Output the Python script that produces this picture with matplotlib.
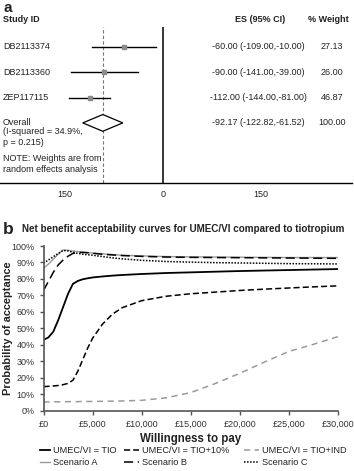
import numpy as np
import matplotlib
matplotlib.use("Agg")
import matplotlib.pyplot as plt
from matplotlib.patches import Polygon
import matplotlib.transforms as mtransforms

plt.rcParams['font.family'] = ['Liberation Sans', 'DejaVu Sans']

# ---- panel a: forest plot data ----
studies = ["DB2113374", "DB2113360", "ZEP117115"]
es = [-60.00, -90.00, -112.00]
ci_lo = [-109.00, -141.00, -144.00]
ci_hi = [-10.00, -39.00, -81.00]
weights = [27.13, 26.00, 46.87]
overall_es = -92.17
overall_lo = -122.82
overall_hi = -61.52
overall_weight = 100.00
forest_ticks = [-150, 0, 150]
forest_ticklabels = ["150", "0", "150"]

# ---- panel b: acceptability curves ----
wtp = [0, 500, 1000, 1500, 2000, 2500, 3000, 3500, 4000, 4500, 5000, 6000,
       7000, 8000, 10000, 12500, 15000, 17500, 20000, 22500, 25000, 27500, 30000]
tio = [43, 44.5, 48, 55, 63, 71, 77, 78.8, 79.8, 80.4, 80.9, 81.5,
       82, 82.4, 83, 83.6, 84, 84.4, 84.8, 85.1, 85.4, 85.7, 86]
tio_10 = [14.6, 14.8, 15, 15.3, 15.8, 16.6, 18.5, 24, 31, 38, 44, 52.5,
          58.5, 62.5, 66.8, 69.5, 71, 72, 73, 73.8, 74.5, 75.2, 75.8]
tio_ind = [5.3, 5.3, 5.4, 5.4, 5.4, 5.5, 5.5, 5.5, 5.6, 5.6, 5.6, 5.7,
           5.8, 5.9, 6.3, 7.8, 11, 16.5, 22.7, 29.5, 36, 40.3, 45]
scen_a = [86.5, 89, 92, 95, 97.6, 97.4, 97, 96.6, 96.3, 96, 95.7, 95.2,
          94.8, 94.4, 94, 93.6, 93.4, 93.3, 93.2, 93.1, 93, 93, 93]
scen_b = [73, 78.5, 84, 88.5, 91.5, 93.8, 95.5, 96, 96.1, 95.9, 95.6, 95,
          94.6, 94.2, 93.7, 93.3, 93.1, 93, 92.9, 92.8, 92.7, 92.6, 92.5]
scen_c = [89.5, 91.5, 93.5, 95.5, 97.3, 97, 96.2, 95.5, 95, 94.7, 94.4, 93.6,
          92.8, 92.2, 91.3, 90.6, 90.2, 89.9, 89.7, 89.5, 89.3, 89.2, 89.1]
x_ticks = [0, 5000, 10000, 15000, 20000, 25000, 30000]
x_ticklabels = ["£0", "£5,000", "£10,000", "£15,000", "£20,000", "£25,000", "£30,000"]
y_ticks = [0, 10, 20, 30, 40, 50, 60, 70, 80, 90, 100]
y_ticklabels = ["0%", "10%", "20%", "30%", "40%", "50%", "60%", "70%", "80%", "90%", "100%"]

W, H = 354, 471
fig = plt.figure(figsize=(W / 100, H / 100), dpi=100)
txt = "#222222"


def fx(px):
    return px / W


def fy(py):
    return 1 - py / H


# ================= panel a =================
ax_a = fig.add_axes([0, fy(183), fx(352), (183 - 27) / H])
x0_px = 163
scale = 98 / 150
ax_a.set_xlim(-x0_px / scale, (352 - x0_px) / scale)
ax_a.set_ylim(5.375, -0.79)
for s in ["top", "right", "left"]:
    ax_a.spines[s].set_visible(False)
ax_a.spines["bottom"].set_linewidth(1.0)
ax_a.set_yticks([])
ax_a.set_xticks(forest_ticks)
ax_a.set_xticklabels(forest_ticklabels, fontsize=6.5, color=txt)
ax_a.tick_params(axis="x", length=0, pad=5)

ax_a.axvline(0, color="black", lw=1.1)
ax_a.axvline(overall_es, color="#777777", lw=0.8, ls=(0, (3, 2)))

rows = np.arange(len(studies))
for r, e, lo, hi in zip(rows, es, ci_lo, ci_hi):
    ax_a.plot([lo, hi], [r, r], color="black", lw=1.0)
    ax_a.plot([e], [r], marker="s", ms=3, color="#8a8a8a", mec="#8a8a8a")

orow = len(studies)
dh = 0.33
diamond = Polygon([[overall_lo, orow], [overall_es, orow - dh],
                   [overall_hi, orow], [overall_es, orow + dh]],
                  closed=True, facecolor="white", edgecolor="black", lw=0.9, zorder=3)
ax_a.add_patch(diamond)

bt = mtransforms.blended_transform_factory(fig.transFigure, ax_a.transData)
fs = 6.5
for r, name, e, lo, hi, w in zip(rows, studies, es, ci_lo, ci_hi, weights):
    ax_a.text(fx(3), r, name, transform=bt, fontsize=fs, color=txt, va="center")
    ax_a.text(fx(258), r, f"{e:.2f} ({lo:.2f},{hi:.2f})", transform=bt,
              fontsize=fs, color=txt, va="center", ha="center")
    ax_a.text(fx(332), r, f"{w:.2f}", transform=bt, fontsize=fs, color=txt,
              va="center", ha="center")
ax_a.text(fx(3), orow, "Overall", transform=bt, fontsize=fs, color=txt, va="center")
ax_a.text(fx(3), orow + 0.33, "(I-squared = 34.9%,", transform=bt, fontsize=fs, color=txt, va="center")
ax_a.text(fx(3), orow + 0.76, "p = 0.215)", transform=bt, fontsize=fs, color=txt, va="center")
ax_a.text(fx(258), orow, f"{overall_es:.2f} ({overall_lo:.2f},{overall_hi:.2f})",
          transform=bt, fontsize=fs, color=txt, va="center", ha="center")
ax_a.text(fx(332), orow, f"{overall_weight:.2f}", transform=bt, fontsize=fs,
          color=txt, va="center", ha="center")
ax_a.text(fx(3), orow + 1.39, "NOTE: Weights are from", transform=bt, fontsize=fs, color=txt, va="center")
ax_a.text(fx(3), orow + 1.86, "random effects analysis", transform=bt, fontsize=fs, color=txt, va="center")

fig.text(fx(3), fy(8), "a", fontsize=11, fontweight="bold", color=txt, va="center")
fig.text(fx(3), fy(20), "Study ID", fontsize=fs, fontweight="bold", color=txt, va="center")
fig.text(fx(260), fy(20), "ES (95% CI)", fontsize=fs, fontweight="bold", color=txt, va="center", ha="center")
fig.text(fx(328), fy(20), "% Weight", fontsize=fs, fontweight="bold", color=txt, va="center", ha="center")

# ================= panel b =================
fig.text(fx(3), fy(229), "b", fontsize=12.5, fontweight="bold", color=txt, va="center")
fig.text(fx(22), fy(229), "Net benefit acceptability curves for UMEC/VI compared to tiotropium",
         fontsize=7.15, fontweight="bold", color=txt, va="center")

ax_b = fig.add_axes([fx(43.5), fy(410.7), (338 - 43.5) / W, (410.7 - 246) / H])
l_tio, = ax_b.plot(wtp, tio, color="black", lw=1.3, label="UMEC/VI = TIO")
l_10, = ax_b.plot(wtp, tio_10, color="black", lw=1.1, ls=(0, (4, 2)), label="UMEC/VI = TIO+10%")
l_ind, = ax_b.plot(wtp, tio_ind, color="#9a9a9a", lw=1.1, ls=(0, (4, 3)), label="UMEC/VI = TIO+IND")
l_a, = ax_b.plot(wtp, scen_a, color="#9a9a9a", lw=1.0, label="Scenario A")
l_b, = ax_b.plot(wtp, scen_b, color="black", lw=1.1, ls=(0, (6, 3)), label="Scenario B")
l_c, = ax_b.plot(wtp, scen_c, color="black", lw=1.1, ls=(0, (1, 1)), label="Scenario C")

ax_b.set_xlim(0, 30000)
ax_b.set_ylim(0, 100)
ax_b.set_xticks(x_ticks)
ax_b.set_xticklabels(x_ticklabels)
ax_b.set_yticks(y_ticks)
ax_b.set_yticklabels(y_ticklabels)
ax_b.tick_params(labelsize=6.5, labelcolor="#333333", color="#555555", length=3, width=1.0)
for s in ["top", "right"]:
    ax_b.spines[s].set_visible(False)
for s in ["left", "bottom"]:
    ax_b.spines[s].set_color("#555555")
    ax_b.spines[s].set_linewidth(1.2)
ax_b.set_xlabel("Willingness to pay", fontsize=8.3, fontweight="bold", color=txt, labelpad=3)
ax_b.set_ylabel("Probability of acceptance", fontsize=7.9, fontweight="bold", color=txt)
ax_b.yaxis.set_label_coords(-(43.5 - 13.5) / 294.5, 0.5)

# legend laid out as three columns, each its own small legend
leg_cols = [([l_tio, l_a], 40, 1.05), ([l_10, l_b], 124, 1.6), ([l_ind, l_c], 244, 1.6)]
for handles, xpx, hlen in leg_cols:
    leg = fig.legend(handles=handles, loc="upper left", bbox_to_anchor=(fx(xpx), fy(446)),
                     frameon=False, fontsize=6.6, handlelength=hlen, handletextpad=0.35,
                     labelspacing=0.35, borderpad=0, borderaxespad=0)
    for t in leg.get_texts():
        t.set_color(txt)

fig.savefig("out.png", dpi=100)
